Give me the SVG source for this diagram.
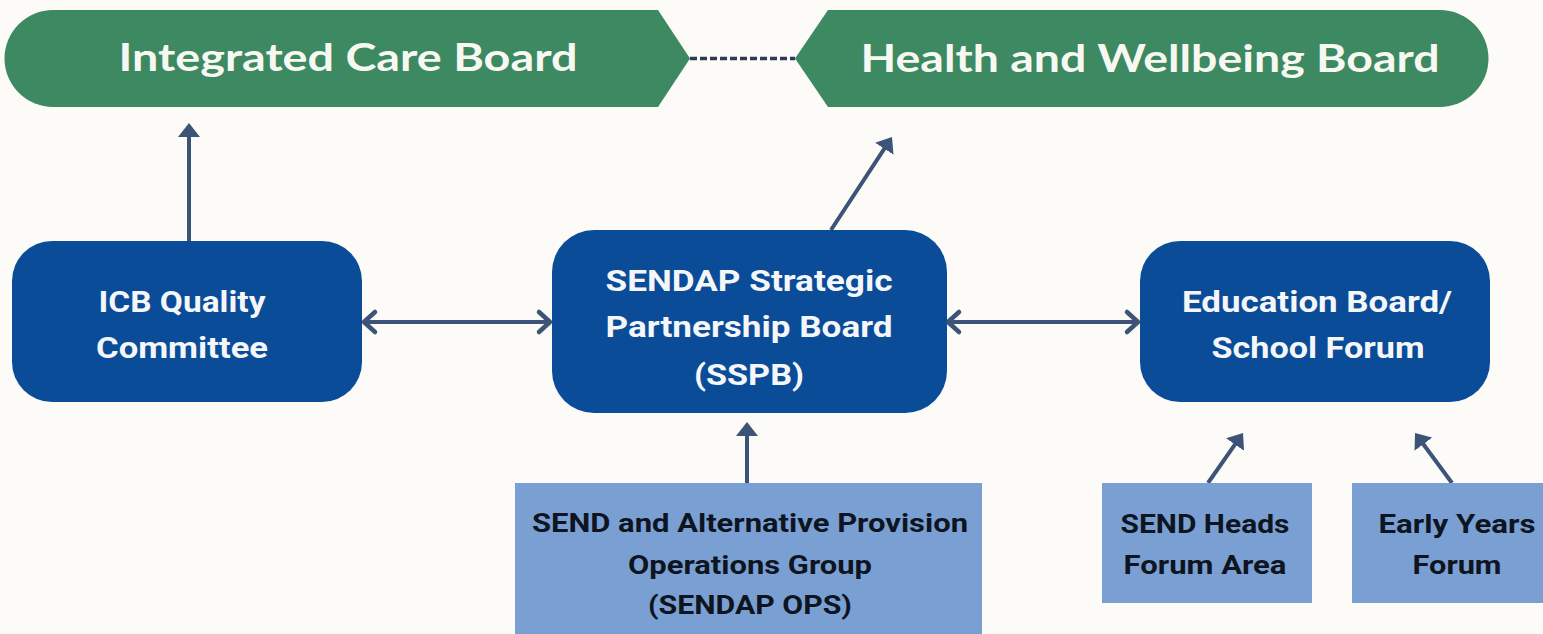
<svg xmlns="http://www.w3.org/2000/svg" width="1543" height="634" viewBox="0 0 1543 634">
  <style>
    .banner { fill: #3c8962; }
    .btext { font-family: Lato, "Open Sans", "Liberation Sans", sans-serif; font-weight: 700; font-size: 38px; fill: #f8f8f3; text-anchor: middle; }
    .main { fill: #0a4c98; }
    .mtext { font-family: Roboto, "Liberation Sans", sans-serif; font-weight: 700; font-size: 30px; fill: #f5f6f8; text-anchor: middle; }
    .sub { fill: #7aa0d3; }
    .stext { font-family: Roboto, "Liberation Sans", sans-serif; font-weight: 700; font-size: 26px; fill: #0e1521; text-anchor: middle; }
    .arrow { stroke: #3d5478; stroke-width: 4; fill: none; }
  </style>
  <defs>
    <marker id="tri" viewBox="0 0 14 22" refX="4" refY="11" markerWidth="14" markerHeight="22" markerUnits="userSpaceOnUse" orient="auto">
      <path d="M0,0 L14,11 L0,22 Z" fill="#3d5478"/>
    </marker>
    <marker id="chev" viewBox="-2 -13 16 26" refX="12" refY="0" markerWidth="16" markerHeight="26" markerUnits="userSpaceOnUse" orient="auto-start-reverse" overflow="visible">
      <path d="M1,-10 L12,0 L1,10" fill="none" stroke="#3d5478" stroke-width="4.5" stroke-linecap="round" stroke-linejoin="round"/>
    </marker>
  </defs>
  <rect x="0" y="0" width="1543" height="634" fill="#fdfbf8"/>

  <g id="connectors">
    <line x1="690" y1="58.5" x2="795" y2="58.5" stroke="#2e3a56" stroke-width="3.5" stroke-dasharray="7 3"/>
    <line class="arrow" x1="189" y1="241" x2="189" y2="133" marker-end="url(#tri)"/>
    <line class="arrow" x1="831" y1="230" x2="886.5" y2="145.4" marker-end="url(#tri)"/>
    <line class="arrow" x1="364" y1="322" x2="550" y2="322" marker-start="url(#chev)" marker-end="url(#chev)"/>
    <line class="arrow" x1="948" y1="322" x2="1138" y2="322" marker-start="url(#chev)" marker-end="url(#chev)"/>
    <line class="arrow" x1="747" y1="483" x2="747" y2="432" marker-end="url(#tri)"/>
    <line class="arrow" x1="1208" y1="483" x2="1237.3" y2="441.2" marker-end="url(#tri)"/>
    <line class="arrow" x1="1452" y1="483" x2="1421" y2="441" marker-end="url(#tri)"/>
  </g>

  <g id="icb">
    <path class="banner" d="M53,10 L658,10 L690,58.5 L658,107 L53,107 A48.5,48.5 0 0 1 53,10 Z"/>
    <text class="btext" x="348" y="71" textLength="459" lengthAdjust="spacingAndGlyphs">Integrated Care Board</text>
  </g>

  <g id="hwb">
    <path class="banner" d="M795,58.5 L828,10 L1440,10 A48.5,48.5 0 0 1 1440,107 L828,107 Z"/>
    <text class="btext" x="1150" y="72" textLength="579" lengthAdjust="spacingAndGlyphs">Health and Wellbeing Board</text>
  </g>

  <g id="icb-quality">
    <rect class="main" x="12" y="241" width="350" height="161" rx="40"/>
    <text class="mtext" x="182" y="312" textLength="167" lengthAdjust="spacingAndGlyphs">ICB Quality</text>
    <text class="mtext" x="182" y="358" textLength="172" lengthAdjust="spacingAndGlyphs">Committee</text>
  </g>

  <g id="sspb">
    <rect class="main" x="552" y="230" width="395" height="183" rx="42"/>
    <text class="mtext" x="749" y="291" textLength="287" lengthAdjust="spacingAndGlyphs">SENDAP Strategic</text>
    <text class="mtext" x="749" y="337" textLength="287" lengthAdjust="spacingAndGlyphs">Partnership Board</text>
    <text class="mtext" x="749" y="385" textLength="110" lengthAdjust="spacingAndGlyphs">(SSPB)</text>
  </g>

  <g id="education">
    <rect class="main" x="1140" y="241" width="350" height="161" rx="40"/>
    <text class="mtext" x="1317" y="312" textLength="270" lengthAdjust="spacingAndGlyphs">Education Board/</text>
    <text class="mtext" x="1318" y="358" textLength="213" lengthAdjust="spacingAndGlyphs">School Forum</text>
  </g>

  <g id="sendap-ops">
    <rect class="sub" x="515" y="483" width="467" height="151"/>
    <text class="stext" x="750" y="532" textLength="436" lengthAdjust="spacingAndGlyphs">SEND and Alternative Provision</text>
    <text class="stext" x="750" y="574" textLength="244" lengthAdjust="spacingAndGlyphs">Operations Group</text>
    <text class="stext" x="750" y="614" textLength="204" lengthAdjust="spacingAndGlyphs">(SENDAP OPS)</text>
  </g>

  <g id="send-heads">
    <rect class="sub" x="1102" y="483" width="210" height="120"/>
    <text class="stext" x="1205" y="533" textLength="169" lengthAdjust="spacingAndGlyphs">SEND Heads</text>
    <text class="stext" x="1205" y="574" textLength="163" lengthAdjust="spacingAndGlyphs">Forum Area</text>
  </g>

  <g id="early-years">
    <rect class="sub" x="1352" y="483" width="200" height="120"/>
    <text class="stext" x="1457" y="533" textLength="157" lengthAdjust="spacingAndGlyphs">Early Years</text>
    <text class="stext" x="1457" y="574" textLength="89" lengthAdjust="spacingAndGlyphs">Forum</text>
  </g>
</svg>
